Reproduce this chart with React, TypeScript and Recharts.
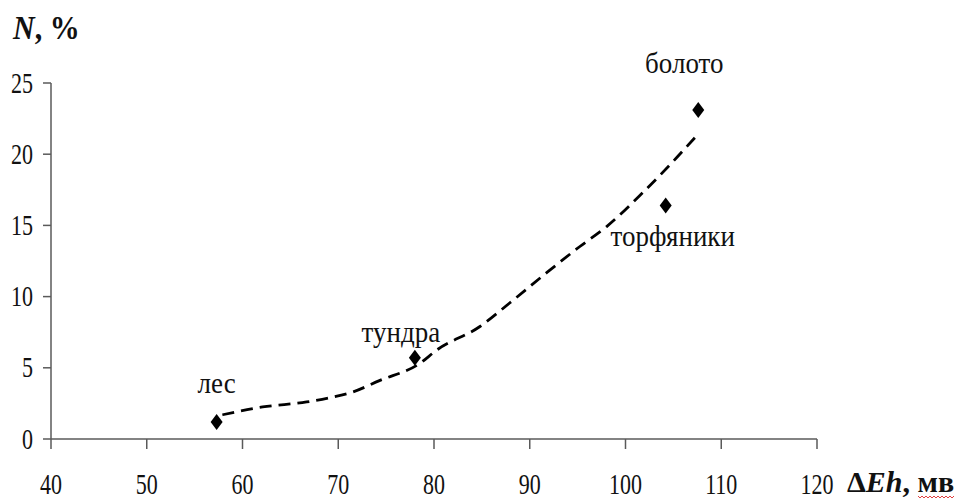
import { ComposedChart, Line, Scatter, XAxis, YAxis, Label } from 'recharts'

// measured points
const pointNames = ['лес', 'тундра', 'торфяники', 'болото']
const pointEh = [57.3, 78.0, 104.2, 107.6]
const pointN = [1.2, 5.7, 16.4, 23.1]

// dashed trend line
const trendEh = [57.9, 62.1, 66.7, 69.1, 71.5, 74.3, 78.5, 80.3, 84.8, 87.9, 91.8, 95.2, 98.0, 101.8, 105.4, 107.5]
const trendN = [1.7, 2.25, 2.6, 2.9, 3.3, 4.1, 5.3, 6.25, 7.9, 9.55, 11.7, 13.5, 14.9, 17.3, 19.8, 21.35]

const xTicks = [40, 50, 60, 70, 80, 90, 100, 110, 120]
const yTicks = [0, 5, 10, 15, 20, 25]

const points = pointNames.map((name, i) => ({ name, x: pointEh[i], y: pointN[i] }))
const trend = trendEh.map((x, i) => ({ x, y: trendN[i] }))

// label offsets relative to each marker
const LABEL_OFFSET: Record<string, [number, number]> = {
  'лес': [0, -29],
  'тундра': [-14, -16],
  'торфяники': [7, 41],
  'болото': [-14, -37],
}

const FONT = '"Liberation Serif", "Times New Roman", serif'
const AXIS = '#5a5a5a'

const XTick = (props: any) => (
  <g transform={`translate(${props.x},494) scale(1,1.3)`}>
    <text textAnchor="middle" fontFamily={FONT} fontSize={22} fill="#111">{props.payload.value}</text>
  </g>
)

const YTick = (props: any) => (
  <g transform={`translate(33,${props.y + 9.5}) scale(1,1.3)`}>
    <text textAnchor="end" fontFamily={FONT} fontSize={22} fill="#111">{props.payload.value}</text>
  </g>
)

const Marker = (props: any) => {
  const { cx, cy, payload } = props
  const [dx, dy] = LABEL_OFFSET[payload.name] || [0, -20]
  return (
    <g>
      <path d={`M${cx},${cy - 8} L${cx + 6},${cy} L${cx},${cy + 8} L${cx - 6},${cy} Z`} fill="#000" />
      <g transform={`translate(${cx + dx},${cy + dy}) scale(1,1.12)`}>
        <text textAnchor="middle" fontFamily={FONT} fontSize={27} fill="#111">{payload.name}</text>
      </g>
    </g>
  )
}

export default function App() {
  return (
    <div style={{ position: 'absolute', left: 0, top: 0, background: '#fff' }}>
      <ComposedChart width={960} height={500} margin={{ top: 83, right: 143, left: 0, bottom: 0 }}>
        <XAxis
          type="number"
          dataKey="x"
          domain={[40, 120]}
          ticks={xTicks}
          interval={0}
          height={61}
          tickSize={10}
          stroke={AXIS}
          strokeWidth={1.5}
          tick={<XTick />}
        >
          <Label
            content={() => (
              <g>
                <text x={847} y={492} fontFamily={FONT} fontSize={30} fontWeight="bold" fill="#111">
                  Δ<tspan fontStyle="italic">Eh</tspan>, мв
                </text>
                <path d="M918,496 l2,2 l2,-2 l2,2 l2,-2 l2,2 l2,-2 l2,2 l2,-2 l2,2 l2,-2 l2,2 l2,-2 l2,2 l2,-2 l2,2 l2,-2 l2,2 l2,-2" fill="none" stroke="#e04040" strokeWidth={1} />
              </g>
            )}
          />
        </XAxis>
        <YAxis
          type="number"
          dataKey="y"
          domain={[0, 25]}
          ticks={yTicks}
          interval={0}
          width={51}
          tickSize={8}
          stroke={AXIS}
          strokeWidth={1.5}
          tick={<YTick />}
        >
          <Label
            content={() => (
              <g transform="translate(13,39) scale(1,1.15)">
                <text fontFamily={FONT} fontSize={30} fontWeight="bold" fill="#111">
                  <tspan fontStyle="italic">N</tspan>, %
                </text>
              </g>
            )}
          />
        </YAxis>
        <Line
          data={trend}
          dataKey="y"
          type="monotone"
          stroke="#000"
          strokeWidth={2.8}
          strokeDasharray="12 7"
          dot={false}
          activeDot={false}
          isAnimationActive={false}
        />
        <Scatter data={points} dataKey="y" shape={<Marker />} isAnimationActive={false} />
      </ComposedChart>
    </div>
  )
}
